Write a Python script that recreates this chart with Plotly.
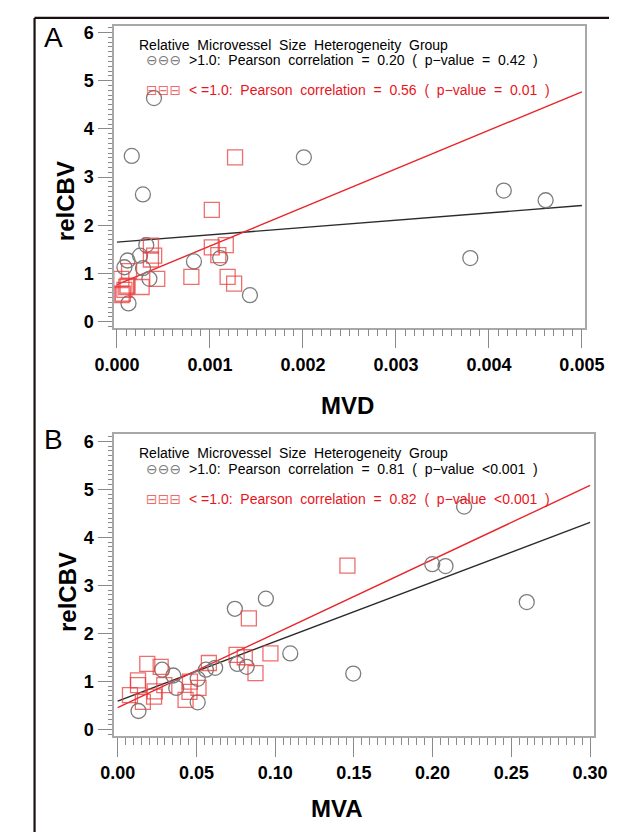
import plotly.graph_objects as go

W, H = 621, 832

# ---------------- Panel A: relCBV vs MVD ----------------
a_gt_mvd = [0.000398, 0.000159, 0.000279, 0.00201, 0.00416, 0.00461, 0.0038,
            0.000828, 0.00111, 0.00143, 0.000124, 0.000315, 0.000349, 0.00008,
            0.000114, 0.000248, 0.00028]
a_gt_rel = [4.64, 3.44, 2.64, 3.41, 2.72, 2.52, 1.32,
            1.25, 1.32, 0.55, 0.38, 1.59, 0.89, 1.13,
            1.27, 1.37, 1.11]
a_le_mvd = [0.00127, 0.00102, 0.00102, 0.00117, 0.00109, 0.00080, 0.00119,
            0.00126, 0.000365, 0.00040, 0.000365, 0.000433, 0.000047, 0.000114,
            0.000265, 0.000063, 0.00008, 0.00013, 0.00010, 0.00005]
a_le_rel = [3.41, 2.32, 1.54, 1.59, 1.38, 0.93, 0.93,
            0.79, 1.58, 1.37, 1.29, 0.89, 0.89, 0.75,
            0.72, 0.58, 0.66, 1.05, 0.72, 0.55]
a_fit_x = [0.0, 0.005]
a_gt_fit_y = [1.65, 2.41]
a_le_fit_y = [0.77, 4.77]
a_xticks = [0.000, 0.001, 0.002, 0.003, 0.004, 0.005]
a_leg = ["&gt;1.0:\u00a0\u00a0Pearson\u00a0\u00a0correlation\u00a0\u00a0=\u00a0\u00a00.20\u00a0\u00a0(\u00a0\u00a0p\u2212value\u00a0\u00a0=\u00a0\u00a00.42\u00a0\u00a0)",
         "&lt;\u00a0=1.0:\u00a0\u00a0Pearson\u00a0\u00a0correlation\u00a0\u00a0=\u00a0\u00a00.56\u00a0\u00a0(\u00a0\u00a0p\u2212value\u00a0\u00a0=\u00a0\u00a00.01\u00a0\u00a0)"]

# ---------------- Panel B: relCBV vs MVA ----------------
b_gt_mva = [0.220, 0.1998, 0.2082, 0.2598, 0.0744, 0.0941, 0.1096, 0.1496,
            0.076, 0.0819, 0.056, 0.0619, 0.0282, 0.0353, 0.0372, 0.0508,
            0.0508, 0.0132]
b_gt_rel = [4.64, 3.44, 3.40, 2.65, 2.51, 2.72, 1.58, 1.16,
            1.36, 1.30, 1.24, 1.28, 1.24, 1.12, 0.86, 1.05,
            0.56, 0.38]
b_le_mva = [0.1459, 0.0833, 0.097, 0.0755, 0.0807, 0.0875, 0.0579, 0.0188,
            0.0273, 0.0129, 0.0129, 0.0078, 0.016, 0.0235, 0.0231, 0.0296,
            0.0459, 0.0456, 0.0513, 0.0431]
b_le_rel = [3.41, 2.31, 1.58, 1.55, 1.50, 1.17, 1.38, 1.36,
            1.30, 1.02, 0.92, 0.71, 0.57, 0.79, 0.68, 0.92,
            0.99, 0.78, 0.86, 0.61]
b_fit_x = [0.0, 0.30]
b_gt_fit_y = [0.585, 4.31]
b_le_fit_y = [0.45, 5.08]
b_xticks = [0.00, 0.05, 0.10, 0.15, 0.20, 0.25, 0.30]
b_leg = ["&gt;1.0:\u00a0\u00a0Pearson\u00a0\u00a0correlation\u00a0\u00a0=\u00a0\u00a00.81\u00a0\u00a0(\u00a0\u00a0p\u2212value\u00a0\u00a0&lt;0.001\u00a0\u00a0)",
         "&lt;\u00a0=1.0:\u00a0\u00a0Pearson\u00a0\u00a0correlation\u00a0\u00a0=\u00a0\u00a00.82\u00a0\u00a0(\u00a0\u00a0p\u2212value\u00a0\u00a0&lt;0.001\u00a0\u00a0)"]

yticks = [0, 1, 2, 3, 4, 5, 6]
leg_title = "Relative\u00a0\u00a0Microvessel\u00a0\u00a0Size\u00a0\u00a0Heterogeneity\u00a0\u00a0Group"

GRAY_MK = "#7d7d7d"
RED_MK = "rgba(232,60,60,0.75)"
BLACK_LN = "#2b2b2b"
RED_LN = "#e8262a"
RED_TX = "#e8141c"
FRAME = "#a8a8a8"
FONT = "Liberation Sans"

def px(x):
    return x / W

def py(y):
    return 1 - y / H

fig = go.Figure()

def add_panel(xa, ya, gx, gy, rx, ry, fx, fgy, fry):
    fig.add_trace(go.Scatter(x=fx, y=fgy, mode="lines", xaxis=xa, yaxis=ya,
                             line=dict(color=BLACK_LN, width=1.4), showlegend=False, hoverinfo="skip"))
    fig.add_trace(go.Scatter(x=fx, y=fry, mode="lines", xaxis=xa, yaxis=ya,
                             line=dict(color=RED_LN, width=1.4), showlegend=False, hoverinfo="skip"))
    fig.add_trace(go.Scatter(x=gx, y=gy, mode="markers", xaxis=xa, yaxis=ya, showlegend=False,
                             marker=dict(symbol="circle-open", size=15, color=GRAY_MK,
                                         line=dict(width=1.3, color=GRAY_MK))))
    fig.add_trace(go.Scatter(x=rx, y=ry, mode="markers", xaxis=xa, yaxis=ya, showlegend=False,
                             marker=dict(symbol="square-open", size=15, color=RED_MK,
                                         line=dict(width=1.3, color=RED_MK))))

add_panel("x", "y", a_gt_mvd, a_gt_rel, a_le_mvd, a_le_rel, a_fit_x, a_gt_fit_y, a_le_fit_y)
add_panel("x2", "y2", b_gt_mva, b_gt_rel, b_le_mva, b_le_rel, b_fit_x, b_gt_fit_y, b_le_fit_y)

tickfont = dict(family=FONT, size=18, color="black", weight="bold")

def xaxis_cfg(domain, rng, ticks, fmt, minor_dt, anchor):
    return dict(domain=domain, range=rng, anchor=anchor, tickvals=ticks, tickformat=fmt,
                showgrid=False, zeroline=False, showline=True, mirror=True,
                linecolor=FRAME, linewidth=1.5, ticks="outside", ticklen=19, tickwidth=1.2,
                tickcolor="#8a8a8a", tickfont=tickfont, ticklabelstandoff=1,
                minor=dict(dtick=minor_dt, ticks="outside", ticklen=7, tickwidth=1.1,
                           tickcolor="#8a8a8a", showgrid=False))

def yaxis_cfg(domain, rng, anchor):
    return dict(domain=domain, range=rng, anchor=anchor, tickvals=yticks,
                showgrid=False, zeroline=False, showline=True, mirror=True,
                linecolor=FRAME, linewidth=1.5, ticks="outside", ticklen=14, tickwidth=1.2,
                tickcolor="#8a8a8a", tickfont=tickfont, ticklabelstandoff=1,
                minor=dict(dtick=0.1, ticks="outside", ticklen=4, tickwidth=1,
                           tickcolor="#8a8a8a", showgrid=False))

fig.update_layout(
    width=W, height=H, autosize=False,
    margin=dict(l=0, r=0, t=0, b=0),
    paper_bgcolor="white", plot_bgcolor="white",
    showlegend=False,
    xaxis=xaxis_cfg([px(92), px(595.2)], [-0.0000312, 0.005032], a_xticks, ".3f", 0.0001, "y"),
    yaxis=yaxis_cfg([py(319.3), py(14.7)], [-0.123, 6.144], "x"),
    xaxis2=xaxis_cfg([px(92), px(604.8)], [-0.0023, 0.3024], b_xticks, ".2f", 0.005, "y2"),
    yaxis2=yaxis_cfg([py(731), py(426.7)], [-0.138, 6.15], "x2"),
)

ann = []
def txt(x, y, s, size, color="black", bold=False, xanchor="center", angle=0, family=FONT):
    ann.append(dict(x=px(x), y=py(y), xref="paper", yref="paper", text=s, showarrow=False,
                    xanchor=xanchor, yanchor="middle", textangle=angle,
                    font=dict(family=family, size=size, color=color,
                              weight="bold" if bold else "normal")))

# panel letters
txt(27.7, 27, "A", 28)
txt(27.7, 432, "B", 28)
# axis titles
txt(39.6, 191.7, "relCBV", 24, bold=True, angle=-90)
txt(341.6, 398, "MVD", 24, bold=True)
txt(41.6, 586, "relCBV", 24, bold=True, angle=-90)
txt(330, 804, "MVA", 24, bold=True)

# legend blocks
for (ty, y1, y2, leg) in [(34.3, 49.3, 80.0, a_leg), (446.0, 461.7, 491.7, b_leg)]:
    txt(116.8, ty, leg_title, 14, xanchor="left")
    txt(124.5, y1, "\u2296\u2296\u2296", 14, color=GRAY_MK, xanchor="left", family="DejaVu Sans")
    txt(169.5, y1, leg[0], 14, xanchor="left")
    txt(124.5, y2, "\u229f\u229f\u229f", 14, color=RED_MK, xanchor="left", family="DejaVu Sans")
    txt(169.5, y2, leg[1], 14, color=RED_TX, xanchor="left")

fig.update_layout(annotations=ann)

# outer frame lines (top and left)
fig.add_shape(type="line", xref="paper", yref="paper", x0=px(7), x1=1, y0=py(7), y1=py(7),
              line=dict(color="#1a1010", width=2.2))
fig.add_shape(type="line", xref="paper", yref="paper", x0=px(7), x1=px(7), y0=py(7), y1=0,
              line=dict(color="#1a1010", width=2.2))

fig.write_html("out.html")
